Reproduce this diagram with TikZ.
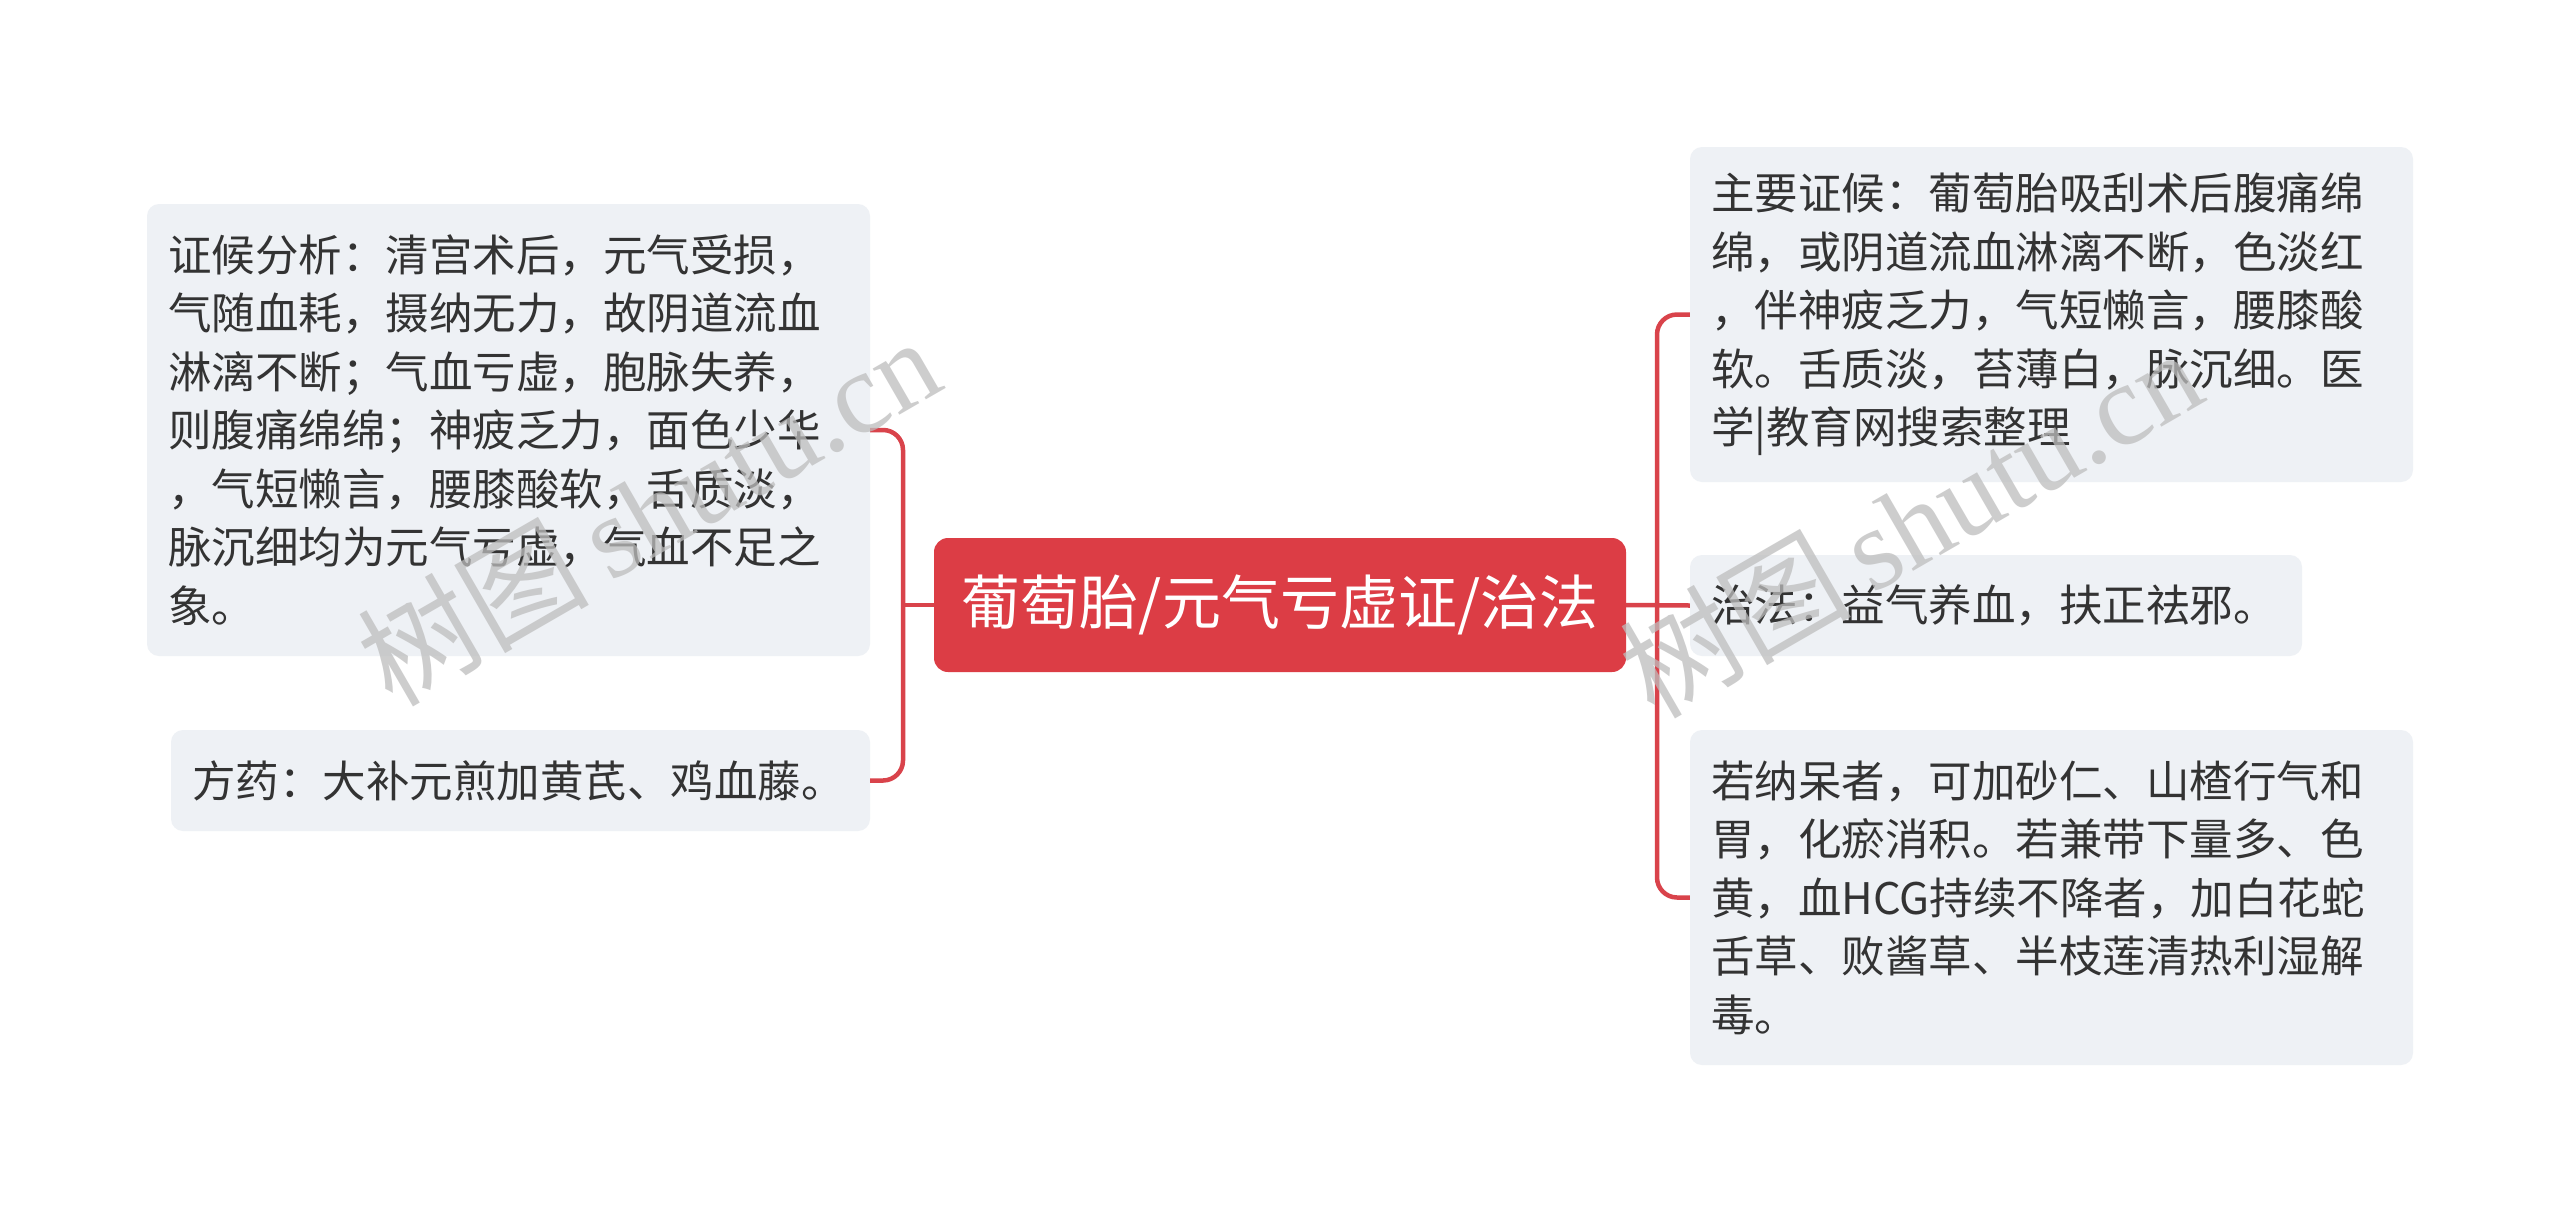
\documentclass[tikz,border=0pt]{standalone}
\usepackage{fontspec}
\setmainfont{Noto Sans CJK SC}
\newfontfamily\wmserif{Liberation Serif}
\usetikzlibrary{calc}
\definecolor{mainred}{HTML}{DC3D45}
\definecolor{connred}{HTML}{D9434B}
\definecolor{boxfill}{HTML}{EEF1F5}
\definecolor{txt}{HTML}{333333}
\definecolor{wmgray}{HTML}{BDBDBD}
\tikzset{
  topic/.style={draw=none, fill=boxfill, rounded corners=12pt, text=txt,
    font=\fontsize{43.5}{58.5}\selectfont, align=left, inner xsep=21pt, inner ysep=0pt},
  central/.style={fill=mainred, rounded corners=14pt, text=white,
    font=\fontsize{59}{64}\selectfont, minimum width=692pt, minimum height=134pt, inner sep=0pt},
  conn/.style={draw=connred, line width=4.5pt, rounded corners=20pt},
  wmark/.style={text=wmgray, opacity=0.75, rotate=30, inner sep=0pt}
}
\begin{document}
\begin{tikzpicture}[x=1pt,y=-1pt]
\useasboundingbox (0,0) rectangle (2560,1211);
\fill[white] (0,0) rectangle (2560,1211);

\node[central] (C) at (1280,605) {葡萄胎/元气亏虚证/治法};

\node[topic, text width=681pt, minimum height=452pt] (L1) at (508.5,430)
  {证候分析：清宫术后，元气受损，\\气随血耗，摄纳无力，故阴道流血\\淋漓不断；气血亏虚，胞脉失养，\\则腹痛绵绵；神疲乏力，面色少华\\，气短懒言，腰膝酸软，舌质淡，\\脉沉细均为元气亏虚，气血不足之\\象。};
\node[topic, text width=657pt, minimum height=101pt] (L2) at (520.5,780.5)
  {方药：大补元煎加黄芪、鸡血藤。};

\node[topic, text width=681pt, minimum height=335pt] (R1) at (2051.5,314.5)
  {主要证候：葡萄胎吸刮术后腹痛绵\\绵，或阴道流血淋漓不断，色淡红\\，伴神疲乏力，气短懒言，腰膝酸\\软。舌质淡，苔薄白，脉沉细。医\\学|教育网搜索整理};
\node[topic, text width=570pt, minimum height=101pt] (R2) at (1996,605.5)
  {治法：益气养血，扶正祛邪。};
\node[topic, text width=681pt, minimum height=335pt] (R3) at (2051.5,897.5)
  {若纳呆者，可加砂仁、山楂行气和\\胃，化瘀消积。若兼带下量多、色\\黄，血HCG持续不降者，加白花蛇\\舌草、败酱草、半枝莲清热利湿解\\毒。};

\coordinate (lj) at (903,605);
\coordinate (rj) at (1657,605);

\draw[conn] (L1.east) -| (lj) |- (L2.east);
\draw[conn] (C.west) -- (lj);
\draw[conn] (R1.west) -| (rj) |- (R3.west);
\draw[conn] (C.east) -- (R2.west);

\node[wmark] (wm1) at (648,510) {\fontsize{116}{120}\selectfont 树图\,{\wmserif shutu.cn}};
\node[wmark] (wm2) at (1910,522) {\fontsize{116}{120}\selectfont 树图\,{\wmserif shutu.cn}};
\end{tikzpicture}
\end{document}
